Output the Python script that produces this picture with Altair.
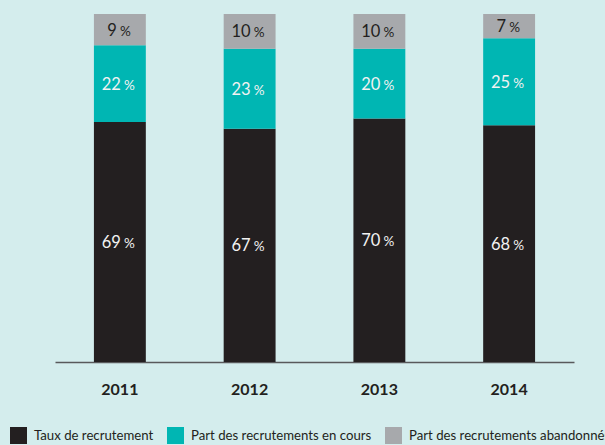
import altair as alt
import pandas as pd

years = ["2011", "2012", "2013", "2014"]
series = ["Taux de recrutement", "Part des recrutements en cours", "Part des recrutements abandonnés"]
taux = [69, 67, 70, 68]
en_cours = [22, 23, 20, 25]
abandon = [9, 10, 10, 7]
colors = ["#231f20", "#00b6b3", "#a7a9ac"]
text_colors = ["#f2f2f2", "#f2f2f2", "#231f20"]

rows = []
for i, y in enumerate(years):
    for k, (s, vals) in enumerate(zip(series, [taux, en_cours, abandon])):
        rows.append({"year": y, "series": s, "value": vals[i], "ord": k,
                     "tcolor": text_colors[k], "label": str(vals[i])})
df = pd.DataFrame(rows)

FONT = "Lato"

base = alt.Chart(df).transform_stack(
    stack="value", as_=["v0", "v1"], groupby=["year"], sort=[alt.SortField("ord")]
).transform_calculate(mid="(datum.v0 + datum.v1) / 2")

x = alt.X("year:N", sort=years,
          scale=alt.Scale(paddingInner=0.6, paddingOuter=0.3),
          axis=alt.Axis(title=None, labelAngle=0, ticks=False, tickSize=0,
                        labelPadding=19, labelFontSize=16, labelFontWeight="bold",
                        labelFont=FONT, labelColor="#231f20",
                        domainColor="#58595b", domainWidth=1.5))

bars = base.mark_bar().encode(
    x=x,
    y=alt.Y("v0:Q", scale=alt.Scale(domain=[0, 100], nice=False), axis=None),
    y2="v1:Q",
    color=alt.Color("series:N", scale=alt.Scale(domain=series, range=colors),
                    legend=alt.Legend(title=None, orient="none", direction="horizontal",
                                      legendX=-45, legendY=413, symbolType="square",
                                      symbolSize=289, symbolStrokeWidth=0,
                                      symbolOpacity=1, labelFontSize=13.2,
                                      labelFont=FONT, labelColor="#231f20",
                                      labelOffset=7, columnPadding=13,
                                      labelLimit=400)),
)

def label_layers(flt, dx_num, dx_pct):
    num = base.transform_filter(flt).mark_text(
        align="right", baseline="alphabetic", fontSize=16.5, font=FONT, dx=dx_num, dy=6
    ).encode(x=alt.X("year:N", sort=years), y=alt.Y("mid:Q"),
             text="label:N", color=alt.Color("tcolor:N", scale=None))
    pct = base.transform_filter(flt).mark_text(
        align="left", baseline="alphabetic", fontSize=13.5, font=FONT, dx=dx_pct, dy=6
    ).encode(x=alt.X("year:N", sort=years), y=alt.Y("mid:Q"),
             text=alt.value("%"), color=alt.Color("tcolor:N", scale=None))
    return [num, pct]

layers = [bars] + label_layers("datum.value >= 10", 1, 4) + label_layers("datum.value < 10", -3, 0)

chart = alt.layer(*layers).properties(
    width=519, height=348,
    autosize=alt.AutoSizeParams(type="none"),
    padding={"left": 55, "top": 14, "right": 31, "bottom": 83},
    background="#d4eded",
).configure_view(stroke=None)

chart.save("out.html", embed_options={"renderer": "svg", "actions": False})
